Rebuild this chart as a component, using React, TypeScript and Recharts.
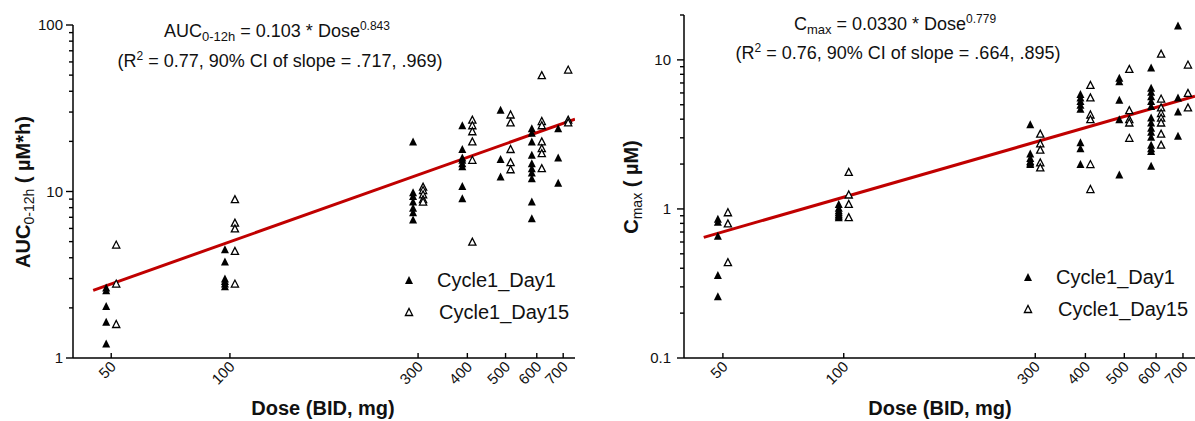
import React from 'react';
import { ScatterChart, Scatter, XAxis, YAxis } from 'recharts';

const doseTicks = [50, 100, 300, 400, 500, 600, 700];
const aucTicks = [1, 2, 3, 4, 5, 6, 7, 8, 9, 10, 20, 30, 40, 50, 60, 70, 80, 90, 100];
const aucMajor = [1, 10, 100];
const cmaxTicks = [0.1, 0.2, 0.3, 0.4, 0.5, 0.6, 0.7, 0.8, 0.9, 1, 2, 3, 4, 5, 6, 7, 8, 9, 10, 20];
const cmaxMajor = [0.1, 1, 10];

// [dose, value]
const aucDay1: [number, number][] = [
  [50, 2.65], [50, 2.55], [50, 2.05], [50, 1.65], [50, 1.22],
  [100, 4.5], [100, 3.8], [100, 3.0], [100, 2.9], [100, 2.8], [100, 2.7],
  [300, 20], [300, 9.9], [300, 9.4], [300, 8.7], [300, 8.0], [300, 7.5], [300, 6.8],
  [400, 25], [400, 18], [400, 16], [400, 15.5], [400, 14.8], [400, 14.2], [400, 10.8], [400, 9.1],
  [500, 31], [500, 15.7], [500, 12.3],
  [600, 24], [600, 22.5], [600, 20], [600, 16.6], [600, 14.8], [600, 13.8], [600, 13], [600, 12], [600, 8.7], [600, 6.9],
  [700, 24], [700, 16], [700, 11.3],
];
const aucDay15: [number, number][] = [
  [50, 4.8], [50, 2.8], [50, 1.6],
  [100, 9.0], [100, 6.5], [100, 6.0], [100, 4.4], [100, 2.8],
  [300, 10.7], [300, 10.2], [300, 9.6], [300, 9.0], [300, 8.7],
  [400, 27], [400, 25], [400, 23], [400, 20], [400, 15.5], [400, 5.0],
  [500, 29], [500, 26], [500, 18], [500, 15], [500, 13.6],
  [600, 50], [600, 26.5], [600, 25], [600, 20], [600, 18.2], [600, 17], [600, 13.8],
  [700, 54], [700, 27], [700, 26],
];
const aucFit: [number, number][] = [[45, 2.55], [750, 27.2]];

const cmaxDay1: [number, number][] = [
  [50, 0.86], [50, 0.82], [50, 0.66], [50, 0.36], [50, 0.26],
  [100, 1.08], [100, 1.02], [100, 0.98], [100, 0.95], [100, 0.92], [100, 0.9], [100, 0.88],
  [300, 3.7], [300, 2.35], [300, 2.2], [300, 2.1], [300, 2.05], [300, 2.0],
  [400, 5.9], [400, 5.6], [400, 5.3], [400, 5.0], [400, 4.7], [400, 2.8], [400, 2.55], [400, 2.0],
  [500, 7.6], [500, 7.2], [500, 5.4], [500, 4.0], [500, 1.7],
  [600, 8.9], [600, 6.5], [600, 6.1], [600, 5.7], [600, 5.3], [600, 4.9], [600, 4.1], [600, 3.8], [600, 3.5], [600, 3.3], [600, 3.05], [600, 2.7], [600, 2.55], [600, 2.45], [600, 1.95],
  [700, 17], [700, 5.6], [700, 4.5], [700, 3.1],
];
const cmaxDay15: [number, number][] = [
  [50, 0.95], [50, 0.8], [50, 0.44],
  [100, 1.77], [100, 1.25], [100, 1.08], [100, 0.88],
  [300, 3.2], [300, 2.75], [300, 2.5], [300, 2.05], [300, 1.9],
  [400, 6.8], [400, 5.6], [400, 4.3], [400, 4.0], [400, 2.0], [400, 1.36],
  [500, 8.7], [500, 4.6], [500, 4.0], [500, 3.8], [500, 3.0],
  [600, 11], [600, 5.5], [600, 4.8], [600, 4.4], [600, 4.1], [600, 3.8], [600, 3.2], [600, 2.7],
  [700, 9.3], [700, 6.0], [700, 4.8],
];
const cmaxFit: [number, number][] = [[44.8, 0.645], [750, 5.7]];

const seriesNames = ['Cycle1_Day1', 'Cycle1_Day15'];

const toPts = (a: [number, number][]) => a.map(([dose, value]) => ({ dose, value }));

const FONT = '"Liberation Sans", Arial, Helvetica, sans-serif';
const RED = '#c00000';

const triPts = (x: number, y: number, hw: number, h: number) =>
  `${x - hw},${y + h / 2} ${x + hw},${y + h / 2} ${x},${y - h / 2}`;

const FilledTri = (props: any) => {
  const { cx, cy } = props;
  if (cx == null || cy == null) return <g />;
  return <polygon points={triPts(cx - 5, cy, 4, 8)} fill="#000" />;
};
const OpenTri = (props: any) => {
  const { cx, cy } = props;
  if (cx == null || cy == null) return <g />;
  return <polygon points={triPts(cx + 5, cy, 3.6, 7)} fill="#fff" stroke="#000" strokeWidth={1.3} />;
};
const NoShape = () => <g />;

const YTick = (props: any) => {
  const { x, y, payload, major, gap } = props;
  const v = payload.value;
  const isMajor = major.includes(v);
  return (
    <g>
      <line x1={x - (isMajor ? 7 : 4)} x2={x} y1={y} y2={y} stroke="#000" strokeWidth={1.4} />
      {isMajor && (
        <text x={x - gap} y={y} dy="0.35em" textAnchor="end" fontFamily={FONT} fontSize={15} fill="#111">
          {String(v)}
        </text>
      )}
    </g>
  );
};

const XTick = (props: any) => {
  const { x, y, payload } = props;
  const tx = x + 2;
  const ty = y + 6;
  return (
    <g>
      <line x1={x} x2={x} y1={y} y2={y - 5} stroke="#000" strokeWidth={1.4} />
      <text x={tx} y={ty} dy="0.35em" textAnchor="end" transform={`rotate(-45 ${tx} ${ty})`} fontFamily={FONT} fontSize={15} fill="#111">
        {String(payload.value)}
      </text>
    </g>
  );
};

const axisLine = { stroke: '#000', strokeWidth: 1.5 };

function Panel(props: {
  width: number;
  margin: any;
  yWidth: number;
  yDomain: [number, number];
  yTicks: number[];
  yMajor: number[];
  gap: number;
  day1: [number, number][];
  day15: [number, number][];
  fit: [number, number][];
}) {
  const { width, margin, yWidth, yDomain, yTicks, yMajor, gap, day1, day15, fit } = props;
  return (
    <ScatterChart width={width} height={421} margin={margin}>
      <XAxis
        type="number"
        dataKey="dose"
        scale="log"
        domain={[40, 750]}
        allowDataOverflow
        ticks={doseTicks}
        interval={0}
        tickSize={0}
        tickMargin={0}
        tickLine={false}
        axisLine={axisLine}
        height={50}
        tick={<XTick />}
      />
      <YAxis
        type="number"
        dataKey="value"
        scale="log"
        domain={yDomain}
        allowDataOverflow
        ticks={yTicks}
        interval={0}
        tickSize={0}
        tickMargin={0}
        tickLine={false}
        axisLine={axisLine}
        width={yWidth}
        tick={<YTick major={yMajor} gap={gap} />}
      />
      <Scatter
        data={toPts(fit)}
        line={{ stroke: RED, strokeWidth: 3 }}
        shape={<NoShape />}
        isAnimationActive={false}
        legendType="none"
      />
      <Scatter name={seriesNames[0]} data={toPts(day1)} shape={<FilledTri />} isAnimationActive={false} />
      <Scatter name={seriesNames[1]} data={toPts(day15)} shape={<OpenTri />} isAnimationActive={false} />
    </ScatterChart>
  );
}

function LegendBlock({ x, y }: { x: number; y: number }) {
  return (
    <g fontFamily={FONT} fontSize={20} fill="#111">
      <polygon points={triPts(x, y, 4, 8)} fill="#000" />
      <text x={x + 28} y={y} dy="0.35em">{seriesNames[0]}</text>
      <polygon points={triPts(x, y + 32, 3.6, 7)} fill="#fff" stroke="#000" strokeWidth={1.3} />
      <text x={x + 30} y={y + 32} dy="0.35em">{seriesNames[1]}</text>
    </g>
  );
}

export default function App() {
  return (
    <div style={{ position: 'absolute', left: 0, top: 0, width: 1195, height: 421, overflow: 'hidden', background: '#fff' }}>
      <div style={{ position: 'absolute', left: 0, top: 0 }}>
        <Panel
          width={600}
          margin={{ top: 25, right: 25, bottom: 13, left: 13 }}
          yWidth={60}
          yDomain={[1, 100]}
          yTicks={aucTicks}
          yMajor={aucMajor}
          gap={10}
          day1={aucDay1}
          day15={aucDay15}
          fit={aucFit}
        />
      </div>
      <div style={{ position: 'absolute', left: 600, top: 0 }}>
        <Panel
          width={595}
          margin={{ top: 15, right: 0, bottom: 13, left: 14 }}
          yWidth={70}
          yDomain={[0.1, 20]}
          yTicks={cmaxTicks}
          yMajor={cmaxMajor}
          gap={13}
          day1={cmaxDay1}
          day15={cmaxDay15}
          fit={cmaxFit}
        />
      </div>
      <svg width={1195} height={421} style={{ position: 'absolute', left: 0, top: 0, pointerEvents: 'none' }}>
        {/* left annotation */}
        <text x={277} y={31} dy="0.35em" textAnchor="middle" fontFamily={FONT} fontSize={18} fill="#111">
          AUC<tspan fontSize={13} dy={4}>0-12h</tspan>
          <tspan dy={-4}> = 0.103 * Dose</tspan>
          <tspan fontSize={12} dy={-7}>0.843</tspan>
        </text>
        <text x={280} y={61} dy="0.35em" textAnchor="middle" fontFamily={FONT} fontSize={18} fill="#111">
          (R<tspan fontSize={12} dy={-7}>2</tspan>
          <tspan dy={7}> = 0.77, 90% CI of slope = .717, .969)</tspan>
        </text>
        {/* right annotation */}
        <text x={895} y={24} dy="0.35em" textAnchor="middle" fontFamily={FONT} fontSize={18} fill="#111">
          C<tspan fontSize={13} dy={4}>max</tspan>
          <tspan dy={-4}> = 0.0330 * Dose</tspan>
          <tspan fontSize={12} dy={-7}>0.779</tspan>
        </text>
        <text x={898} y={53} dy="0.35em" textAnchor="middle" fontFamily={FONT} fontSize={18} fill="#111">
          (R<tspan fontSize={12} dy={-7}>2</tspan>
          <tspan dy={7}> = 0.76, 90% CI of slope = .664, .895)</tspan>
        </text>
        {/* y-axis titles */}
        <text transform="translate(23,192) rotate(-90)" textAnchor="middle" dy="0.35em" fontFamily={FONT} fontSize={20} fill="#111" fontWeight="bold">
          AUC<tspan fontSize={14} fontWeight="normal" dy={4}>0-12h</tspan>
          <tspan dy={-4}> ( µM*h)</tspan>
        </text>
        <text transform="translate(631,187) rotate(-90)" textAnchor="middle" dy="0.35em" fontFamily={FONT} fontSize={20} fill="#111" fontWeight="bold">
          C<tspan fontSize={14} fontWeight="normal" dy={4}>max</tspan>
          <tspan dy={-4}> ( µM)</tspan>
        </text>
        {/* x-axis titles */}
        <text x={323} y={408} dy="0.35em" textAnchor="middle" fontFamily={FONT} fontSize={20} fontWeight="bold" fill="#111">Dose (BID, mg)</text>
        <text x={940} y={408} dy="0.35em" textAnchor="middle" fontFamily={FONT} fontSize={20} fontWeight="bold" fill="#111">Dose (BID, mg)</text>
        <LegendBlock x={409} y={280} />
        <LegendBlock x={1028} y={277} />
      </svg>
    </div>
  );
}
